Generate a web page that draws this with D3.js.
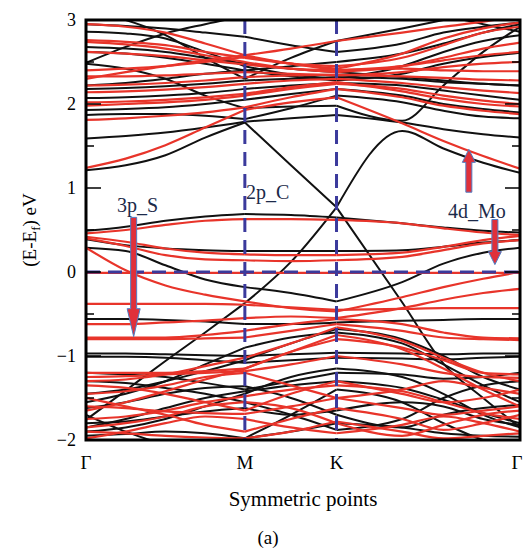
<!DOCTYPE html>
<html><head><meta charset="utf-8">
<script src="https://cdn.jsdelivr.net/npm/d3@7"></script>
<style>body{margin:0;background:#fff}</style>
</head><body>
<svg id="c" width="525" height="550"></svg>
<script>
// k-path sample points (Γ - M - K - Γ)
const kPoints = [0, 0.25, 0.5, 0.75, 1, 1.29, 1.577, 1.99, 2.25, 2.5, 2.732];
const kTicks = [0, 1, 1.577, 2.732];
const kLabels = ["Γ", "M", "K", "Γ"];
const yTicks = [-2, -1, 0, 1, 2, 3];
const yMinorTicks = [-1.5, -0.5, 0.5, 1.5, 2.5];

// black bands (energies at kPoints)
const blackBands = [
  [1.21, 1.27, 1.39, 1.60, 1.78, 1.27, 0.77, 1.68, 1.47, 1.30, 1.18],
  [1.59, 1.62, 1.66, 1.72, 1.79, 1.83, 1.87, 1.78, 1.70, 1.64, 1.60],
  [2.48, 2.42, 2.30, 2.10, 1.95, 1.97, 1.98, 1.80, 2.22, 2.62, 2.92],
  [0.49, 0.54, 0.61, 0.66, 0.69, 0.68, 0.65, 0.58, 0.53, 0.49, 0.47],
  [0.39, 0.32, 0.28, 0.26, 0.25, 0.25, 0.25, 0.26, 0.30, 0.35, 0.38],
  [0.29, 0.25, 0.08, -0.09, -0.18, -0.25, -0.35, -0.12, 0.10, 0.23, 0.29],
  [-1.76, -1.41, -1.06, -0.72, -0.37, 0.12, 0.77, -0.36, -1.09, -1.50, -1.85],
  [-0.56, -0.56, -0.57, -0.59, -0.62, -0.62, -0.60, -0.58, -0.57, -0.56, -0.56],
  [-0.97, -0.97, -0.98, -0.99, -1.00, -0.98, -0.96, -0.97, -0.98, -0.97, -0.97],
  [-1.01, -1.01, -1.02, -1.05, -1.08, -1.05, -1.02, -1.03, -1.04, -1.02, -1.01],
  [-1.55, -1.45, -1.30, -1.10, -0.90, -0.78, -0.72, -0.85, -1.10, -1.35, -1.55],
  [-1.90, -1.85, -1.75, -1.60, -1.45, -1.25, -1.15, -1.25, -1.45, -1.70, -1.85],
  [-1.62, -1.55, -1.45, -1.38, -1.36, -1.50, -1.70, -1.85, -1.70, -1.62, -1.58],
  [-1.30, -1.32, -1.38, -1.45, -1.55, -1.70, -1.88, -1.75, -1.50, -1.35, -1.30],
  [-1.80, -1.78, -1.72, -1.66, -1.62, -1.70, -1.65, -1.55, -1.60, -1.75, -1.82],
  [-1.95, -1.93, -1.90, -1.92, -1.98, -1.90, -1.80, -1.85, -1.92, -1.95, -1.96],
  [-1.20, -1.22, -1.25, -1.32, -1.40, -1.30, -1.20, -1.22, -1.27, -1.25, -1.20],
  [-1.70, -1.90, -2.05, -2.10, -1.98, -1.70, -1.40, -1.55, -1.80, -2.00, -2.10],
  [-1.45, -1.40, -1.30, -1.18, -1.05, -0.85, -0.68, -0.80, -1.00, -1.25, -1.40],
  [-1.85, -1.75, -1.62, -1.50, -1.42, -1.35, -1.30, -1.38, -1.52, -1.68, -1.80],
  [2.86, 2.84, 2.78, 2.62, 2.45, 2.35, 2.30, 2.45, 2.62, 2.75, 2.82],
  [2.62, 2.60, 2.55, 2.48, 2.40, 2.33, 2.28, 2.36, 2.48, 2.56, 2.61],
  [2.49, 2.68, 2.84, 2.95, 3.05, 3.10, 3.10, 3.10, 3.05, 2.95, 2.86],
  [2.07, 2.08, 2.10, 2.13, 2.18, 2.22, 2.25, 2.22, 2.16, 2.10, 2.05],
  [1.93, 1.94, 1.96, 2.00, 2.05, 2.12, 2.18, 2.10, 2.00, 1.94, 1.90],
  [1.87, 1.88, 1.88, 1.86, 1.82, 1.95, 2.10, 2.02, 1.92, 1.85, 1.83],
  [3.10, 3.00, 2.82, 2.55, 2.30, 2.55, 2.75, 2.90, 3.00, 3.10, 3.10],
  [2.22, 2.25, 2.30, 2.36, 2.40, 2.45, 2.50, 2.60, 2.72, 2.85, 2.95],
  [2.68, 2.66, 2.62, 2.55, 2.48, 2.42, 2.38, 2.32, 2.28, 2.24, 2.22],
  [2.18, 2.19, 2.21, 2.24, 2.28, 2.30, 2.32, 2.30, 2.26, 2.24, 2.22],
  [2.95, 2.93, 2.90, 2.85, 2.80, 2.70, 2.62, 2.72, 2.85, 2.92, 2.97]
];

// red bands (energies at kPoints)
const redBands = [
  [1.24, 1.35, 1.51, 1.72, 1.93, 2.02, 2.08, 1.77, 1.56, 1.38, 1.23],
  [0.46, 0.50, 0.56, 0.61, 0.63, 0.63, 0.62, 0.58, 0.52, 0.47, 0.44],
  [0.42, 0.36, 0.28, 0.23, 0.21, 0.20, 0.20, 0.23, 0.30, 0.38, 0.43],
  [0.40, 0.31, 0.20, 0.15, 0.14, 0.13, 0.14, 0.18, 0.26, 0.34, 0.38],
  [-0.01, -0.01, -0.01, -0.01, -0.01, -0.01, -0.01, -0.01, -0.01, -0.01, -0.01],
  [0.29, 0.02, -0.16, -0.27, -0.35, -0.43, -0.47, -0.30, -0.18, -0.08, 0.00],
  [-0.38, -0.38, -0.38, -0.38, -0.39, -0.42, -0.45, -0.44, -0.43, -0.43, -0.43],
  [-0.62, -0.62, -0.60, -0.58, -0.55, -0.53, -0.55, -0.43, -0.33, -0.25, -0.20],
  [-0.78, -0.78, -0.78, -0.75, -0.70, -0.62, -0.56, -0.62, -0.72, -0.78, -0.79],
  [-0.80, -0.80, -0.80, -0.79, -0.78, -0.70, -0.62, -0.70, -0.78, -0.80, -0.81],
  [-1.20, -1.20, -1.20, -1.18, -1.15, -0.95, -0.80, -0.90, -1.05, -1.20, -1.22],
  [-1.25, -1.24, -1.22, -1.20, -1.18, -1.10, -1.00, -1.10, -1.20, -1.25, -1.26],
  [-1.45, -1.42, -1.35, -1.25, -1.20, -1.35, -1.50, -1.40, -1.30, -1.38, -1.45],
  [-1.60, -1.62, -1.66, -1.68, -1.69, -1.60, -1.50, -1.62, -1.70, -1.65, -1.60],
  [-1.50, -1.60, -1.70, -1.82, -1.90, -1.75, -1.62, -1.75, -1.88, -1.80, -1.70],
  [-1.85, -1.80, -1.72, -1.60, -1.55, -1.62, -1.80, -1.95, -1.82, -1.70, -1.65],
  [-1.90, -1.92, -1.95, -1.97, -1.98, -1.90, -1.78, -1.90, -1.98, -1.95, -1.92],
  [-1.35, -1.38, -1.45, -1.55, -1.65, -1.45, -1.30, -1.45, -1.55, -1.50, -1.40],
  [-1.65, -1.55, -1.42, -1.28, -1.15, -0.95, -0.75, -0.92, -1.15, -1.40, -1.60],
  [-1.30, -1.28, -1.22, -1.12, -1.02, -0.85, -0.66, -0.82, -1.02, -1.20, -1.30],
  [-1.75, -1.72, -1.65, -1.55, -1.48, -1.40, -1.35, -1.42, -1.55, -1.68, -1.75],
  [-1.98, -1.90, -1.80, -1.72, -1.75, -1.85, -1.92, -1.82, -1.72, -1.80, -1.90],
  [2.95, 2.92, 2.85, 2.72, 2.58, 2.48, 2.42, 2.60, 2.78, 2.90, 2.97],
  [2.76, 2.74, 2.70, 2.62, 2.55, 2.48, 2.45, 2.55, 2.70, 2.85, 2.92],
  [2.74, 2.71, 2.66, 2.58, 2.50, 2.42, 2.38, 2.45, 2.55, 2.66, 2.73],
  [2.33, 2.33, 2.34, 2.36, 2.38, 2.36, 2.34, 2.38, 2.44, 2.48, 2.50],
  [2.22, 2.23, 2.25, 2.28, 2.32, 2.34, 2.35, 2.33, 2.31, 2.29, 2.28],
  [2.14, 2.15, 2.17, 2.20, 2.24, 2.28, 2.30, 2.25, 2.20, 2.16, 2.13],
  [2.02, 2.03, 2.05, 2.08, 2.12, 2.20, 2.26, 2.15, 2.06, 2.00, 1.97],
  [1.81, 1.83, 1.86, 1.90, 1.96, 2.08, 2.18, 2.08, 1.98, 1.92, 1.88],
  [2.40, 2.42, 2.45, 2.50, 2.56, 2.48, 2.40, 2.42, 2.40, 2.39, 2.39],
  [2.30, 2.38, 2.45, 2.52, 2.58, 2.66, 2.75, 2.85, 2.92, 2.98, 3.05],
  [2.62, 2.60, 2.57, 2.52, 2.47, 2.42, 2.40, 2.45, 2.52, 2.58, 2.62],
  [1.98, 2.00, 2.02, 2.05, 2.10, 2.18, 2.24, 2.18, 2.10, 2.04, 2.00]
];

// orbital annotations: label text/position and arrows (k, energy)
const labelTexts = ["3p_S", "2p_C", "4d_Mo"];
const labelK = [0.195, 1.007, 2.278];
const labelE = [0.72, 0.864, 0.637];
const arrowK = [0.30, 2.41, 2.574];
const arrowFromE = [0.65, 0.95, 0.625];
const arrowToE = [-0.77, 1.46, 0.088];

const svg = d3.select("#c");
const L = 86, R = 520, T = 20, B = 440;
const x = d3.scaleLinear().domain([0, 2.732]).range([L, R]);
const y = d3.scaleLinear().domain([-2, 3]).range([B, T]);

svg.append("clipPath").attr("id", "clip")
  .append("rect").attr("x", L).attr("y", T).attr("width", R - L).attr("height", B - T);

const g = svg.append("g").attr("clip-path", "url(#clip)");
const segs = [[0, 4], [4, 6], [6, 10]];
const line = d3.line().x(d => x(d[0])).y(d => y(d[1])).curve(d3.curveMonotoneX);

function drawBands(bands, color, w) {
  bands.forEach(b => {
    segs.forEach(([a, c]) => {
      const pts = [];
      for (let i = a; i <= c; i++) pts.push([kPoints[i], b[i]]);
      g.append("path").attr("d", line(pts)).attr("fill", "none")
        .attr("stroke", color).attr("stroke-width", w);
    });
  });
}
drawBands(blackBands, "#111", 2);
drawBands(redBands, "#e8342a", 2.2);

// dashed guides
const dashC = "#3b3a9c";
[kTicks[1], kTicks[2]].forEach(k => {
  g.append("line").attr("x1", x(k)).attr("x2", x(k)).attr("y1", T).attr("y2", B)
    .attr("stroke", dashC).attr("stroke-width", 3).attr("stroke-dasharray", "14,8");
});
g.append("line").attr("x1", L).attr("x2", R).attr("y1", y(0)).attr("y2", y(0))
  .attr("stroke", dashC).attr("stroke-width", 3).attr("stroke-dasharray", "14,8");

// frame
svg.append("rect").attr("x", L).attr("y", T).attr("width", R - L).attr("height", B - T)
  .attr("fill", "none").attr("stroke", "#000").attr("stroke-width", 3);

// ticks on left and right (inward)
yTicks.forEach(t => {
  svg.append("line").attr("x1", L).attr("x2", L + 15).attr("y1", y(t)).attr("y2", y(t)).attr("stroke", "#000").attr("stroke-width", 1.5);
  svg.append("line").attr("x1", R).attr("x2", R - 15).attr("y1", y(t)).attr("y2", y(t)).attr("stroke", "#000").attr("stroke-width", 1.5);
});
yMinorTicks.forEach(t => {
  svg.append("line").attr("x1", L).attr("x2", L + 8).attr("y1", y(t)).attr("y2", y(t)).attr("stroke", "#000").attr("stroke-width", 1.5);
  svg.append("line").attr("x1", R).attr("x2", R - 8).attr("y1", y(t)).attr("y2", y(t)).attr("stroke", "#000").attr("stroke-width", 1.5);
});

const serif = "'Liberation Serif', 'Times New Roman', serif";
yTicks.forEach(t => {
  svg.append("text").attr("x", 76).attr("y", y(t)).attr("dy", "0.35em")
    .attr("text-anchor", "end").attr("font-family", serif).attr("font-size", 18)
    .text(t < 0 ? "\u2212" + Math.abs(t) : String(t));
});
kTicks.forEach((k, i) => {
  svg.append("text").attr("x", i === 3 ? 517 : x(k)).attr("y", 469)
    .attr("text-anchor", "middle").attr("font-family", serif).attr("font-size", 19)
    .text(kLabels[i]);
});
svg.append("text").attr("x", 303).attr("y", 506).attr("text-anchor", "middle")
  .attr("font-family", serif).attr("font-size", 21).text("Symmetric points");
svg.append("text").attr("x", 268).attr("y", 544).attr("text-anchor", "middle")
  .attr("font-family", serif).attr("font-size", 19).text("(a)");

const yl = svg.append("text").attr("transform", "translate(36,230) rotate(-90)")
  .attr("text-anchor", "middle").attr("font-family", serif).attr("font-size", 19);
yl.append("tspan").text("(E-E");
yl.append("tspan").attr("font-size", 13).attr("dy", 4).text("f");
yl.append("tspan").attr("dy", -4).text(") eV");

// annotations
labelTexts.forEach((t, i) => {
  svg.append("text").attr("x", x(labelK[i])).attr("y", y(labelE[i]))
    .attr("font-family", serif).attr("font-size", 20).attr("fill", "#1c2a4a").text(t);
});
arrowK.forEach((k, i) => {
  const ax = x(k), y0 = y(arrowFromE[i]), y1 = y(arrowToE[i]);
  const dir = y1 > y0 ? 1 : -1;
  const hl = i === 0 ? 28 : 13, sw = 3, hw = 6.5;
  const hy = y1 - dir * hl;
  const p = d3.path();
  p.moveTo(ax - sw, y0); p.lineTo(ax - sw, hy); p.lineTo(ax - hw, hy);
  p.lineTo(ax, y1); p.lineTo(ax + hw, hy); p.lineTo(ax + sw, hy);
  p.lineTo(ax + sw, y0); p.closePath();
  svg.append("path").attr("d", p.toString()).attr("fill", "#e0303a")
    .attr("stroke", "#4f7cc4").attr("stroke-width", 1);
});
</script>
</body></html>
